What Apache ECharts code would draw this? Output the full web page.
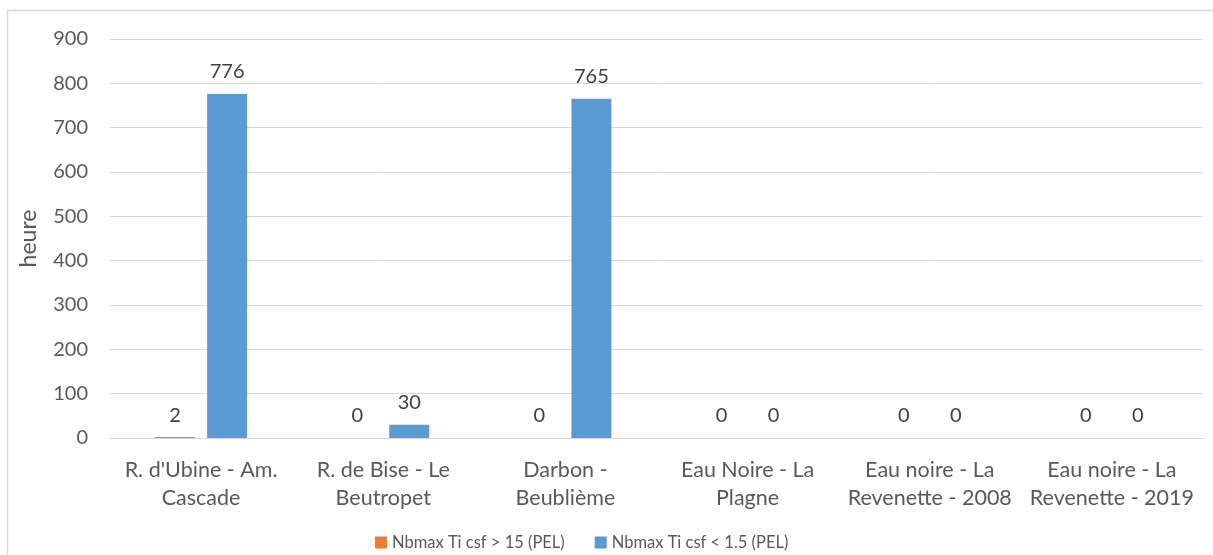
<!DOCTYPE html>
<html>
<head>
<meta charset="utf-8">
<script src="https://cdn.jsdelivr.net/npm/echarts@6/dist/echarts.min.js"></script>
<style>
  html, body { margin: 0; padding: 0; background: #fff; }
  #chart { width: 1213px; height: 555px; }
</style>
</head>
<body>
<div id="chart"></div>
<script>
// Stations along the x axis
const categories = [
  "R. d'Ubine - Am.\nCascade",
  "R. de Bise - Le\nBeutropet",
  "Darbon -\nBeublième",
  "Eau Noire - La\nPlagne",
  "Eau noire - La\nRevenette - 2008",
  "Eau noire - La\nRevenette - 2019"
];
// Hours per series
const seriesHigh = [2, 0, 0, 0, 0, 0];       // Nbmax Ti csf > 15 (PEL)
const seriesLow = [776, 30, 765, 0, 0, 0];   // Nbmax Ti csf < 1.5 (PEL)
const seriesNames = ["Nbmax Ti csf > 15 (PEL)", "Nbmax Ti csf < 1.5 (PEL)"];
const yTicks = { min: 0, max: 900, interval: 100 };

const FONT = "Lato, 'Open Sans', sans-serif";
const TXT = '#595959';

const chart = echarts.init(document.getElementById('chart'), null, { renderer: 'canvas' });

const labelStyle = {
  show: true,
  position: 'top',
  distance: 12,
  color: '#404040',
  fontFamily: FONT,
  fontSize: 20
};

chart.setOption({
  animation: false,
  backgroundColor: '#fff',
  graphic: [{
    type: 'rect',
    shape: { x: 7.5, y: 10.5, width: 1220, height: 560 },
    style: { fill: 'none', stroke: '#d9d9d9', lineWidth: 1.5 },
    silent: true
  }],
  grid: { left: 110, right: 10, top: 39, bottom: 117, containLabel: false },
  legend: {
    top: 529,
    left: 370,
    itemWidth: 12,
    itemHeight: 12,
    itemGap: 30,
    icon: 'rect',
    textStyle: { color: TXT, fontFamily: FONT, fontSize: 16.5 },
    data: seriesNames
  },
  xAxis: {
    type: 'category',
    data: categories,
    axisLine: { show: true, lineStyle: { color: '#d9d9d9', width: 1 } },
    axisTick: { show: false },
    axisLabel: {
      color: TXT, fontFamily: FONT, fontSize: 21.5, lineHeight: 28,
      margin: 18, interval: 0
    }
  },
  yAxis: {
    type: 'value',
    min: yTicks.min,
    max: yTicks.max,
    interval: yTicks.interval,
    name: 'heure',
    nameLocation: 'middle',
    nameGap: 70,
    nameRotate: 90,
    nameTextStyle: { color: TXT, fontFamily: FONT, fontSize: 23 },
    axisLine: { show: false },
    axisTick: { show: false },
    axisLabel: { color: TXT, fontFamily: FONT, fontSize: 20, margin: 22 },
    splitLine: { lineStyle: { color: '#d9d9d9', width: 1 } }
  },
  series: [
    {
      name: seriesNames[0],
      type: 'bar',
      data: seriesHigh,
      barWidth: 40,
      barGap: '30%',
      itemStyle: { color: '#ED7D31' },
      label: labelStyle
    },
    {
      name: seriesNames[1],
      type: 'bar',
      data: seriesLow,
      barWidth: 40,
      barGap: '30%',
      itemStyle: { color: '#5B9BD5' },
      label: labelStyle
    }
  ]
});
</script>
</body>
</html>
